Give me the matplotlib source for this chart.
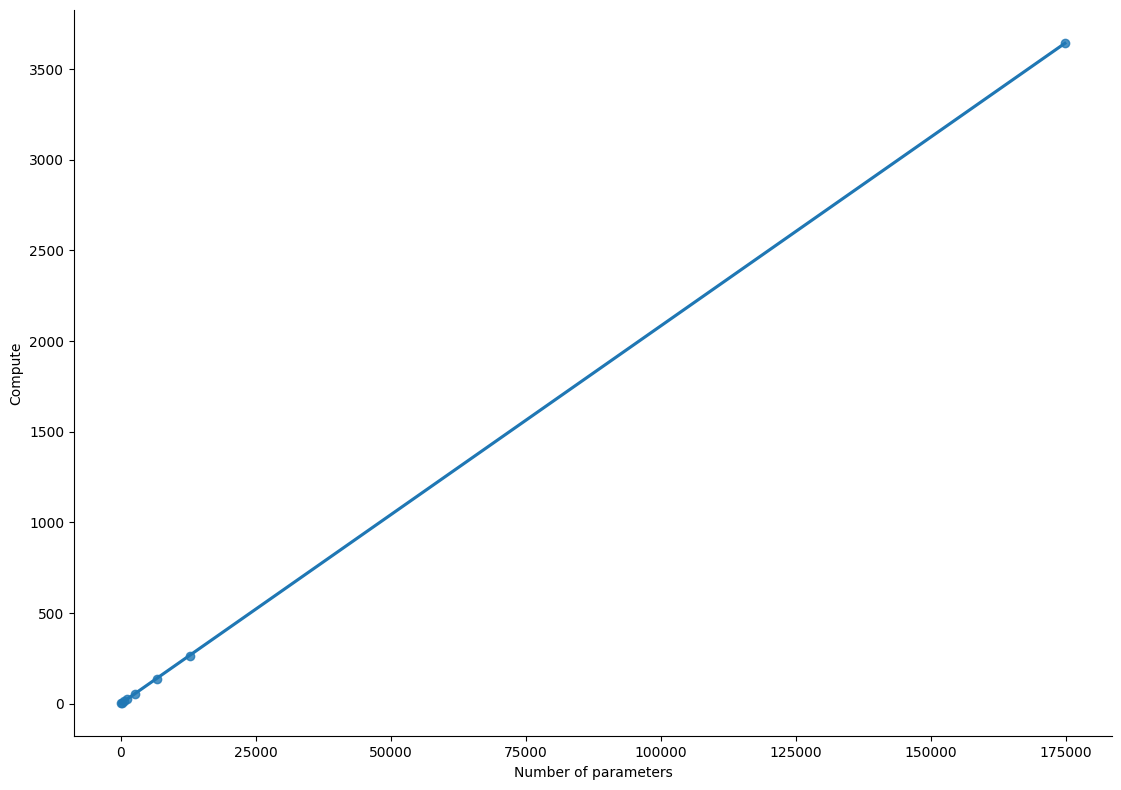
import matplotlib
matplotlib.use('Agg')
import matplotlib.pyplot as plt
import seaborn as sns
import pandas as pd

# data
params = [80, 250, 550, 1100, 2600, 6700, 12800, 174800]
compute = [2, 6, 12, 26, 55, 138, 265, 3643]

df = pd.DataFrame({'Number of parameters': params, 'Compute': compute})

fig, ax = plt.subplots(figsize=(11.21, 7.9), dpi=100)
fig.subplots_adjust(left=0.066, right=0.992, top=0.987, bottom=0.068)
sns.regplot(data=df, x='Number of parameters', y='Compute', ci=None, ax=ax)
sns.despine(ax=ax)

fig.savefig('out.png', dpi=100)
